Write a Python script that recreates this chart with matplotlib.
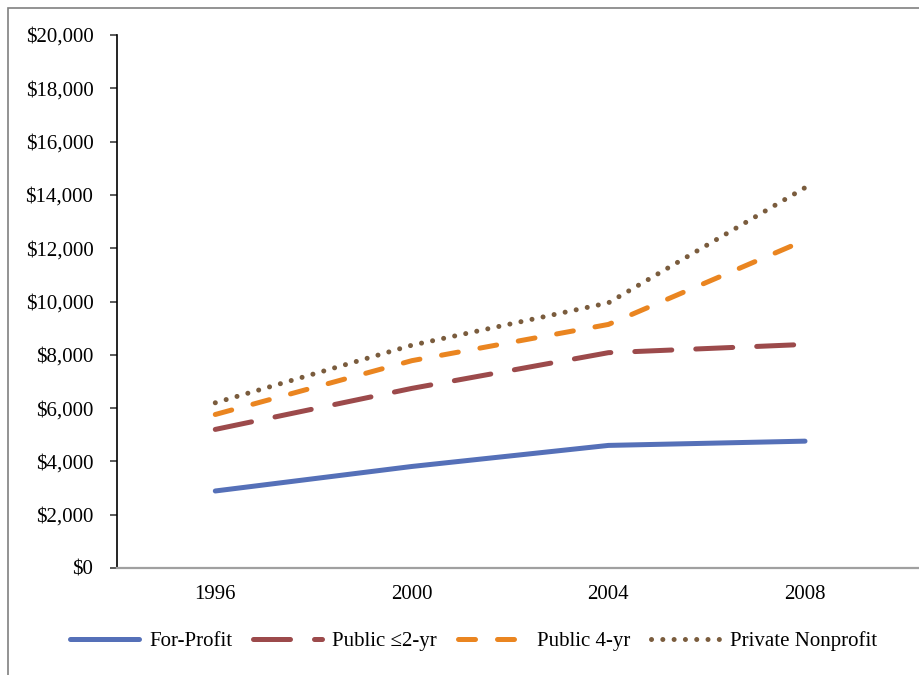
import matplotlib
matplotlib.use('Agg')
import matplotlib.pyplot as plt
from matplotlib.patches import Rectangle
from matplotlib.ticker import FuncFormatter

plt.rcParams['font.family'] = ['Liberation Serif', 'DejaVu Serif']

# Data
years = ['1996', '2000', '2004', '2008']
for_profit = [2890, 3810, 4600, 4760]
public_2yr = [5200, 6740, 8080, 8390]
public_4yr = [5760, 7780, 9140, 12300]
private_np = [6200, 8360, 9950, 14270]

series = [
    ('For-Profit', for_profit, '#5570B8', None),
    ('Public \u22642-yr', public_2yr, '#9C4A4B', (0, (7.4, 4.8))),
    ('Public 4-yr', public_4yr, '#EA8520', (0, (3.4, 4.4))),
    ('Private Nonprofit', private_np, '#7A5C3D', (0, (0.01, 2.25))),
]

fig = plt.figure(figsize=(9.2, 6.75), dpi=100)
ax = fig.add_axes([117 / 920, 1 - 568 / 675, 1 - 117 / 920, (568 - 35) / 675])

x = list(range(len(years)))
for label, vals, color, ls in series:
    kw = dict(color=color, lw=3.6, label=label, solid_capstyle='round',
              dash_capstyle='round', solid_joinstyle='round')
    if ls is not None:
        kw['linestyle'] = ls
    ax.plot(x, vals, **kw)

ax.set_xlim(-0.5, 3.585)
ax.set_ylim(0, 20000)
ax.set_yticks(range(0, 20001, 2000))
ax.yaxis.set_major_formatter(FuncFormatter(lambda v, p: f'${v:,.0f}'))
ax.set_xticks(x)
ax.set_xticklabels(years)

ax.tick_params(axis='y', labelsize=15, length=5, width=1.2, color='#404040', pad=12)
ax.tick_params(axis='x', labelsize=15, length=0, pad=12)

for side in ['top', 'right']:
    ax.spines[side].set_visible(False)
ax.spines['left'].set_color('black')
ax.spines['left'].set_linewidth(1.2)
ax.spines['bottom'].set_color('#a0a0a0')
ax.spines['bottom'].set_linewidth(1.6)

fig.legend(loc='center', bbox_to_anchor=(0.515, 1 - 641 / 675), ncol=4, frameon=False,
           fontsize=15, handlelength=3.3, handletextpad=0.5, columnspacing=1.0)

# outer chart border (cropped at right/bottom in the original)
fig.patches.append(Rectangle((8 / 920, -0.05), 1.1, 0.05 + 1 - 8 / 675,
                             transform=fig.transFigure, fill=False,
                             edgecolor='#808080', lw=1.2))

fig.savefig('out.png', dpi=100)
